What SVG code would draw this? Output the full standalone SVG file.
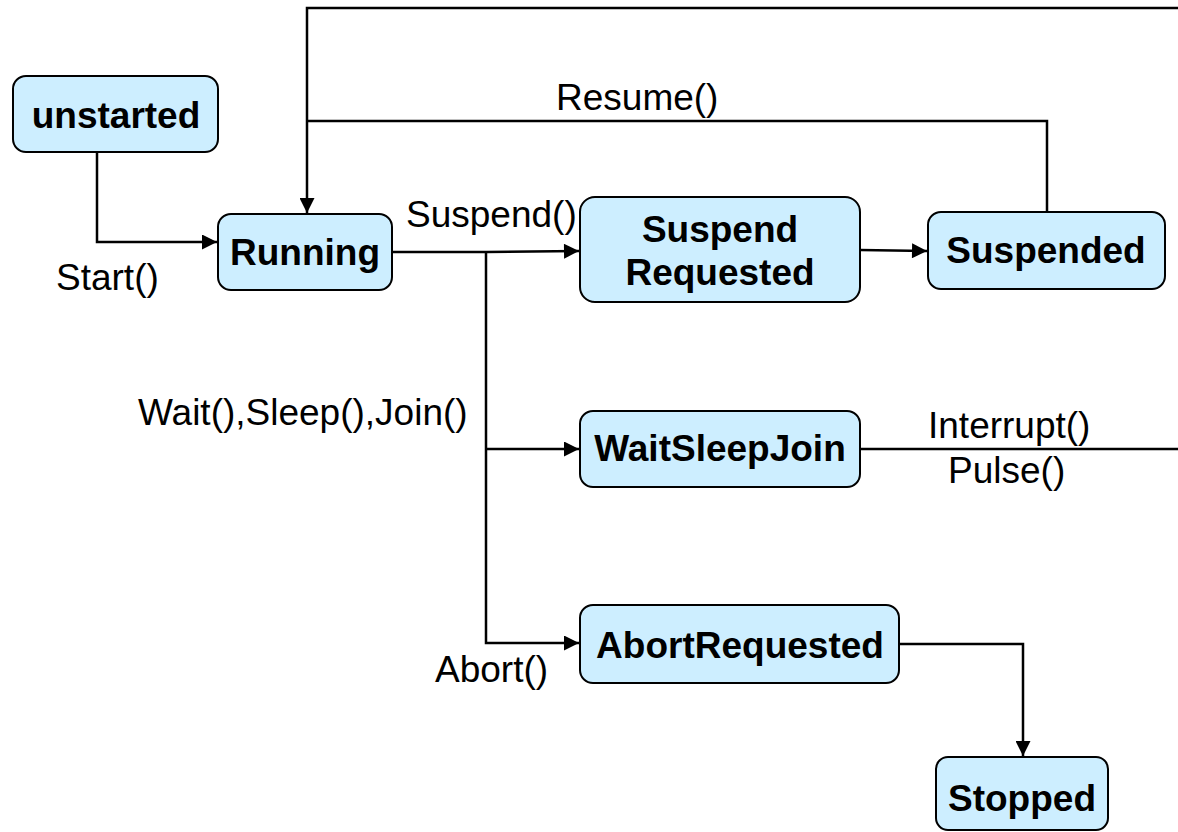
<svg xmlns="http://www.w3.org/2000/svg" width="1178" height="832" viewBox="0 0 1178 832">
  <style>
    .node rect { fill: #cdeeff; stroke: #000; stroke-width: 2; }
    .node text { font-family: "Liberation Sans", Arial, sans-serif; font-weight: bold; font-size: 37px; fill: #000; text-anchor: middle; }
    .edge { fill: none; stroke: #000; stroke-width: 2.5; }
    .label { font-family: "Liberation Sans", Arial, sans-serif; font-size: 37px; fill: #000; }
  </style>
  <defs>
    <marker id="arrow" viewBox="0 0 10 10" refX="10" refY="5" markerWidth="6.6" markerHeight="6" markerUnits="strokeWidth" orient="auto">
      <path d="M0,0 L10,5 L0,10 Z" fill="#000"/>
    </marker>
  </defs>

  <!-- connectors -->
  <g id="connectors">
    <path class="edge" d="M97,152 V242 H217" marker-end="url(#arrow)"/>
    <path class="edge" d="M1178,8 H307 V213" marker-end="url(#arrow)"/>
    <path class="edge" d="M1047,212 V121 H307"/>
    <path class="edge" d="M392,252 H486 L579,251" marker-end="url(#arrow)"/>
    <path class="edge" d="M860,250 L927,251" marker-end="url(#arrow)"/>
    <path class="edge" d="M486,252 V643 H579" marker-end="url(#arrow)"/>
    <path class="edge" d="M486,449 H579" marker-end="url(#arrow)"/>
    <path class="edge" d="M860,449 H1178"/>
    <path class="edge" d="M899,644 H1023 V756" marker-end="url(#arrow)"/>
  </g>

  <!-- transition labels -->
  <g id="labels">
    <text class="label" x="556" y="110">Resume()</text>
    <text class="label" x="406" y="227">Suspend()</text>
    <text class="label" x="56" y="290">Start()</text>
    <text class="label" x="138" y="425">Wait(),Sleep(),Join()</text>
    <text class="label" x="928" y="438">Interrupt()</text>
    <text class="label" x="948" y="483">Pulse()</text>
    <text class="label" x="435" y="682">Abort()</text>
  </g>

  <!-- states -->
  <g id="unstarted" class="node">
    <rect x="13" y="76" width="205" height="76" rx="13"/>
    <text x="116" y="128">unstarted</text>
  </g>
  <g id="running" class="node">
    <rect x="218" y="214" width="174" height="76" rx="13"/>
    <text x="305" y="265">Running</text>
  </g>
  <g id="suspend-requested" class="node">
    <rect x="580" y="197" width="280" height="105" rx="15"/>
    <text x="720" y="242">Suspend</text>
    <text x="720" y="285">Requested</text>
  </g>
  <g id="suspended" class="node">
    <rect x="928" y="212" width="237" height="77" rx="13"/>
    <text x="1046" y="263">Suspended</text>
  </g>
  <g id="wait-sleep-join" class="node">
    <rect x="580" y="411" width="280" height="76" rx="13"/>
    <text x="720" y="461">WaitSleepJoin</text>
  </g>
  <g id="abort-requested" class="node">
    <rect x="580" y="605" width="319" height="78" rx="13"/>
    <text x="740" y="658">AbortRequested</text>
  </g>
  <g id="stopped" class="node">
    <rect x="936" y="757" width="172" height="73" rx="12"/>
    <text x="1022" y="811">Stopped</text>
  </g>
</svg>
